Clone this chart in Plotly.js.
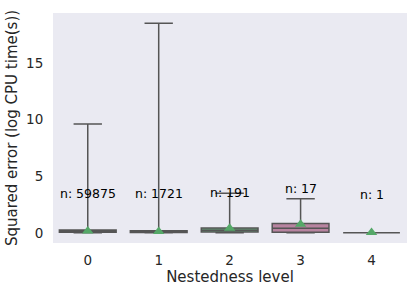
<!DOCTYPE html>
<html>
<head>
<meta charset="utf-8">
<script src="https://cdn.plot.ly/plotly-3.0.1.min.js"></script>
<style>html,body{margin:0;padding:0;background:#fff}#chart{width:415px;height:292px}</style>
</head>
<body>
<div id="chart"></div>
<script>
const levels = [0, 1, 2, 3, 4];
const tickLabels = ["0", "1", "2", "3", "4"];
const lowerFence = [0, 0, 0, 0, 0];
const q1 = [0.04, 0.03, 0.08, 0.05, 0];
const median = [0.12, 0.08, 0.22, 0.4, 0];
const q3 = [0.25, 0.18, 0.42, 0.82, 0];
const upperFence = [9.6, 18.5, 3.5, 3.0, 0];
const means = [0.15, 0.12, 0.4, 0.75, 0.02];
const counts = [59875, 1721, 191, 17, 1];
const labelY = [3.45, 3.45, 3.6, 3.9, 3.35];
const fills = ["#5d7ea5", "#c98b63", "#67a079", "#b884a0", "#8f8fb5"];

const traces = levels.map((lv, i) => ({
  type: "box",
  x: [lv],
  q1: [q1[i]], median: [median[i]], q3: [q3[i]],
  lowerfence: [lowerFence[i]], upperfence: [upperFence[i]],
  width: 0.8,
  whiskerwidth: 0.5,
  fillcolor: fills[i],
  line: {color: "#555555", width: 1.5},
  boxpoints: false,
  hoverinfo: "skip",
  showlegend: false
}));
traces.push({
  type: "scatter", mode: "markers",
  x: levels, y: means,
  marker: {symbol: "triangle-up", size: 10, color: "#55a868"},
  showlegend: false, hoverinfo: "skip"
});

const annotations = levels.map((lv, i) => ({
  x: lv, y: labelY[i], xref: "x", yref: "y",
  text: "n: " + counts[i], showarrow: false,
  font: {family: "DejaVu Sans", size: 12.5, color: "#000"}
}));

const layout = {
  width: 415, height: 292,
  margin: {l: 53, r: 8, t: 13, b: 49},
  paper_bgcolor: "#ffffff",
  plot_bgcolor: "#eaeaf2",
  font: {family: "DejaVu Sans", color: "#262626"},
  xaxis: {
    range: [-0.49, 4.5], tickvals: levels, ticktext: tickLabels,
    showgrid: false, zeroline: false, showline: false,
    ticks: "outside", ticklen: 5, tickcolor: "rgba(0,0,0,0)",
    tickfont: {size: 13.5, color: "#262626"},
    title: {text: "Nestedness level", font: {size: 15, color: "#262626"}, standoff: 4}
  },
  yaxis: {
    range: [-0.9, 19.4], tickvals: [0, 5, 10, 15], ticktext: ["0", "5", "10", "15"],
    showgrid: false, zeroline: false, showline: false,
    ticks: "outside", ticklen: 6, tickcolor: "rgba(0,0,0,0)",
    tickfont: {size: 13.5, color: "#262626"},
    title: {text: "Squared error (log CPU time(s))", font: {size: 15, color: "#262626"}, standoff: 4}
  },
  annotations: annotations
};

Plotly.newPlot("chart", traces, layout, {displayModeBar: false, staticPlot: true});
</script>
</body>
</html>
